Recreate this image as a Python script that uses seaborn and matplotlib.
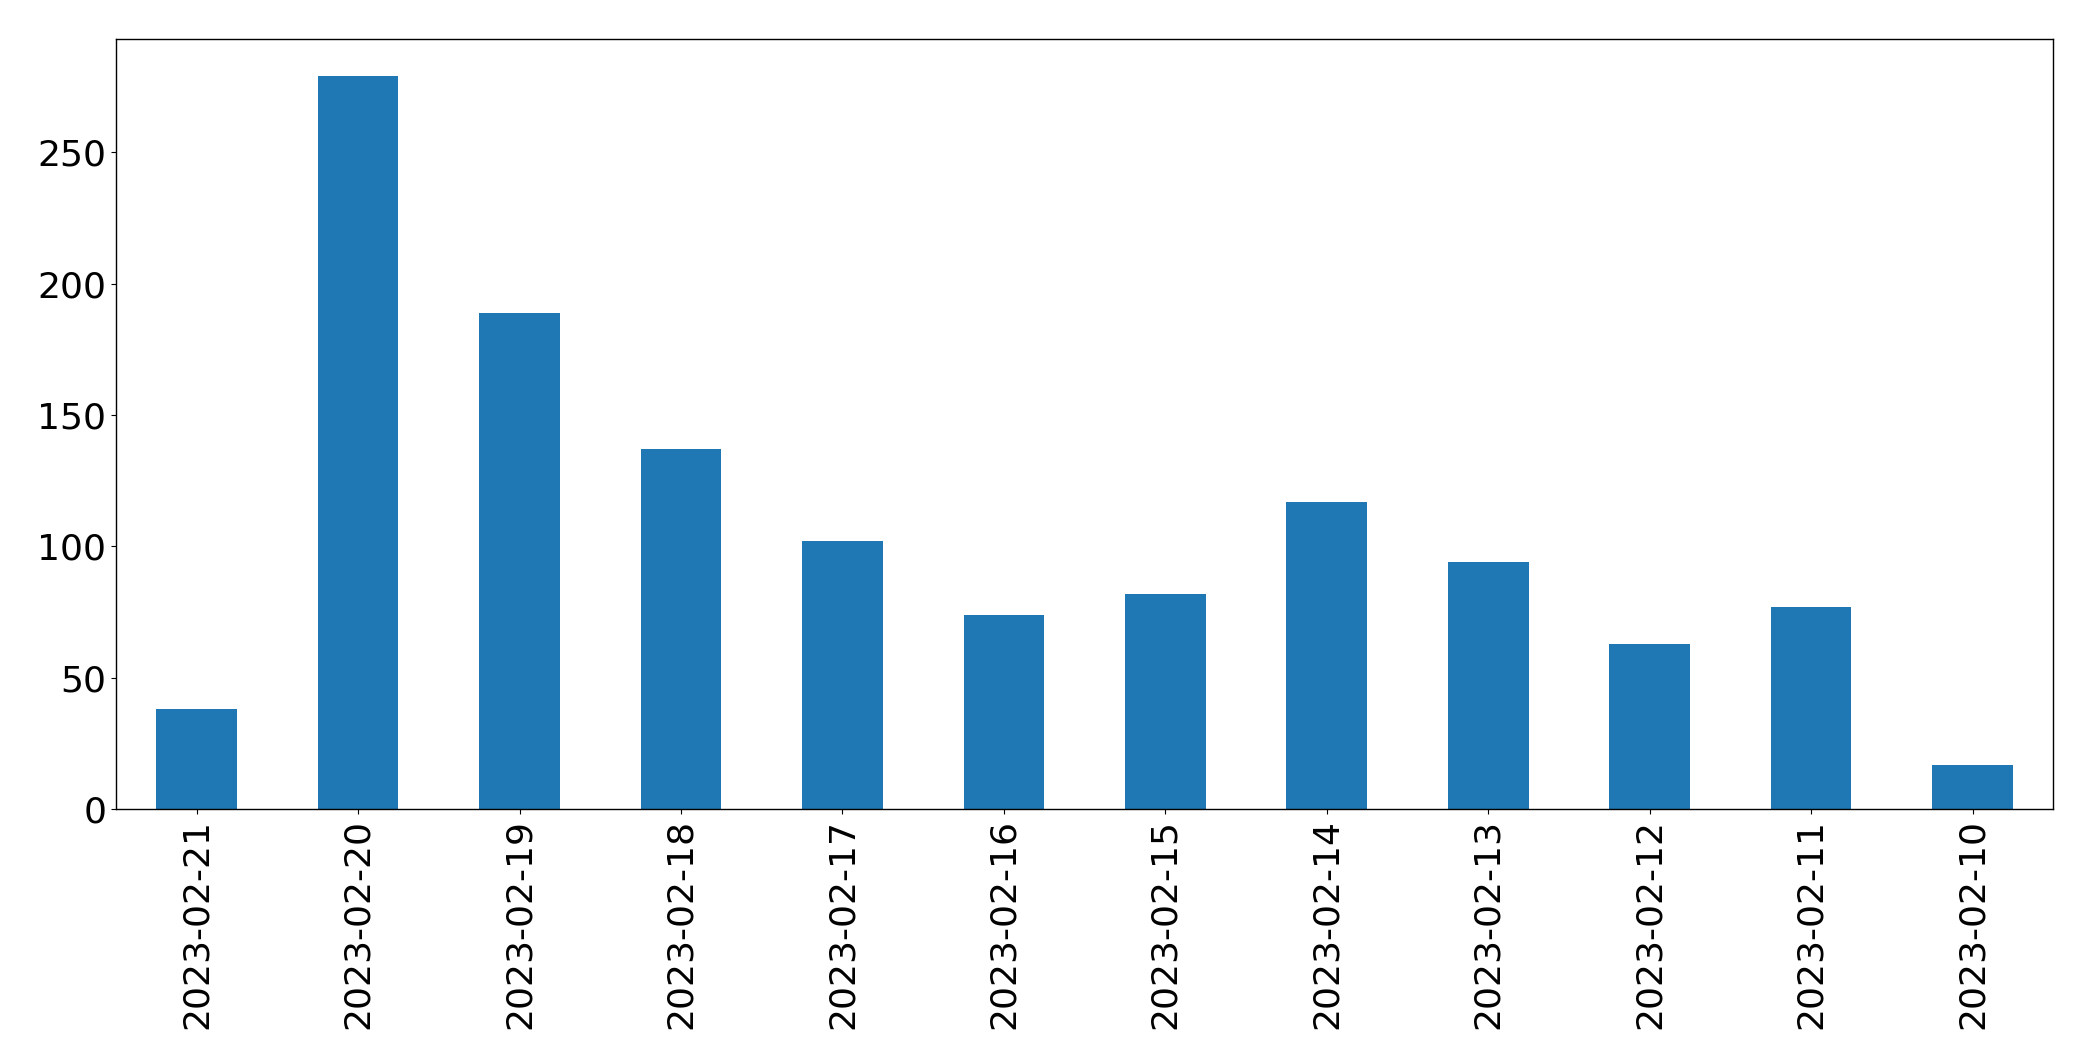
import matplotlib
matplotlib.use("Agg")
import matplotlib.pyplot as plt
import seaborn as sns
import pandas as pd

dates = ["2023-02-21", "2023-02-20", "2023-02-19", "2023-02-18", "2023-02-17", "2023-02-16",
         "2023-02-15", "2023-02-14", "2023-02-13", "2023-02-12", "2023-02-11", "2023-02-10"]
counts = [38, 279, 189, 137, 102, 74, 82, 117, 94, 63, 77, 17]

df = pd.DataFrame({"date": dates, "count": counts})

fig, ax = plt.subplots(figsize=(20.93, 10.61), dpi=100)
fig.subplots_adjust(left=0.0554, right=0.981, top=0.963, bottom=0.2372)

sns.barplot(data=df, x="date", y="count", order=dates, color="#1f77b4",
            saturation=1, width=0.5, ax=ax)

ax.set_xlim(-0.5, len(dates) - 0.5)
ax.set_ylim(0, max(counts) * 1.05)
ax.set_xlabel("")
ax.set_ylabel("")
ax.set_yticks([0, 50, 100, 150, 200, 250])
ax.tick_params(axis="both", labelsize=26)
ax.tick_params(axis="x", labelrotation=90)
for s in ax.spines.values():
    s.set_color("black")
    s.set_linewidth(1.0)

fig.savefig("out.png", dpi=100)
